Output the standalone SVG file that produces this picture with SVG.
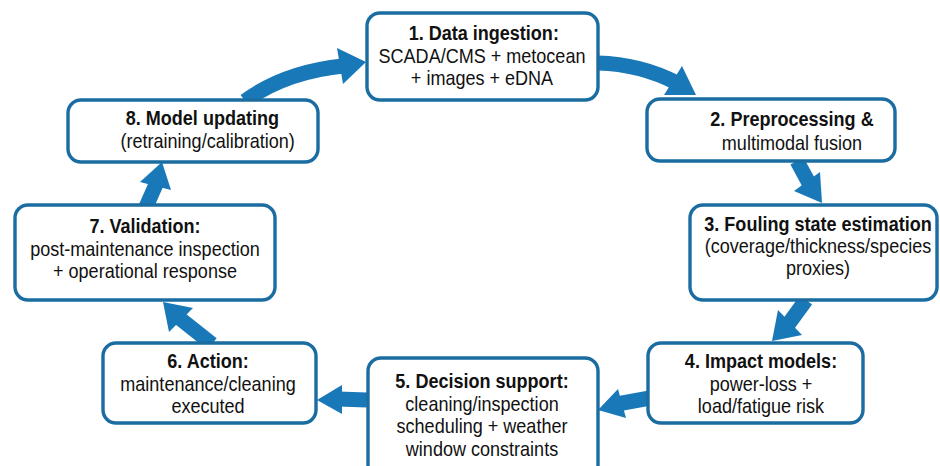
<svg xmlns="http://www.w3.org/2000/svg" width="940" height="466" viewBox="0 0 940 466">
<style>
.box{fill:#fff;stroke:#1b6ca0;stroke-width:3.4}
.t{font-family:"Liberation Sans",Arial,sans-serif;font-size:20.5px;fill:#111;text-anchor:middle}
.b{font-weight:bold}
.ab{fill:none;stroke:#1878b8;stroke-width:15;stroke-linecap:butt}
.ah{fill:#1878b8}
</style>
<rect width="940" height="466" fill="#fff"/>
<g id="connectors">
<path class="ab" d="M245,101 Q285,72 343,66"/>
<polygon class="ah" points="366,62 343,84 337,48"/>
<path class="ab" d="M598,63 Q640,64 677,83"/>
<polygon class="ah" points="696,95 664,95 682,66"/>
<path class="ab" d="M797,161 L810,185"/>
<polygon class="ah" points="822,203 794,191 820,172"/>
<path class="ab" d="M806,300 L787,326"/>
<polygon class="ah" points="772,341 778,310 802,335"/>
<path class="ab" d="M650,398 L617,404"/>
<polygon class="ah" points="598,410 618,389 626,418"/>
<path class="ab" d="M367,400 L338,399"/>
<polygon class="ah" points="317,400 342,385 342,414"/>
<path class="ab" d="M212,344 L178,317"/>
<polygon class="ah" points="163,302 193,308 169,332"/>
<path class="ab" d="M146,207 L157,182"/>
<polygon class="ah" points="162,162 171,190 140,182"/>
</g>
<g id="n1">
<rect class="box" x="367" y="13" width="231" height="87" rx="13"/>
<g transform="translate(482,0) scale(0.88,1)">
<text class="t b" x="2" y="40">1. Data ingestion:</text>
<text class="t" x="0" y="63">SCADA/CMS + metocean</text>
<text class="t" x="0" y="85">+ images + eDNA</text>
</g>
</g>
<g id="n2">
<rect class="box" x="647" y="99" width="248" height="62" rx="13"/>
<g transform="translate(792,0) scale(0.88,1)">
<text class="t b" x="0" y="126">2. Preprocessing &amp;</text>
<text class="t" x="0" y="150">multimodal fusion</text>
</g>
</g>
<g id="n3">
<rect class="box" x="690" y="205" width="247" height="95" rx="13"/>
<g transform="translate(818,0) scale(0.88,1)">
<text class="t b" x="0" y="231">3. Fouling state estimation</text>
<text class="t" x="0" y="253">(coverage/thickness/species</text>
<text class="t" x="0" y="275">proxies)</text>
</g>
</g>
<g id="n4">
<rect class="box" x="648" y="343" width="215" height="80" rx="13"/>
<g transform="translate(761,0) scale(0.88,1)">
<text class="t b" x="0" y="368">4. Impact models:</text>
<text class="t" x="0" y="391">power-loss +</text>
<text class="t" x="0" y="413">load/fatigue risk</text>
</g>
</g>
<g id="n5">
<rect class="box" x="368" y="358" width="230" height="120" rx="13"/>
<g transform="translate(482,0) scale(0.88,1)">
<text class="t b" x="0" y="388">5. Decision support:</text>
<text class="t" x="0" y="411">cleaning/inspection</text>
<text class="t" x="0" y="433">scheduling + weather</text>
<text class="t" x="0" y="456">window constraints</text>
</g>
</g>
<g id="n6">
<rect class="box" x="103" y="343" width="213" height="80" rx="13"/>
<g transform="translate(208,0) scale(0.88,1)">
<text class="t b" x="0" y="368">6. Action:</text>
<text class="t" x="0" y="391">maintenance/cleaning</text>
<text class="t" x="0" y="413">executed</text>
</g>
</g>
<g id="n7">
<rect class="box" x="15" y="205" width="260" height="95" rx="13"/>
<g transform="translate(145,0) scale(0.88,1)">
<text class="t b" x="0" y="233">7. Validation:</text>
<text class="t" x="0" y="256">post-maintenance inspection</text>
<text class="t" x="0" y="278">+ operational response</text>
</g>
</g>
<g id="n8">
<rect class="box" x="68" y="100" width="250" height="62" rx="13"/>
<g transform="translate(205,0) scale(0.88,1)">
<text class="t b" x="-3" y="125">8. Model updating</text>
<text class="t" x="3" y="148">(retraining/calibration)</text>
</g>
</g>
</svg>
